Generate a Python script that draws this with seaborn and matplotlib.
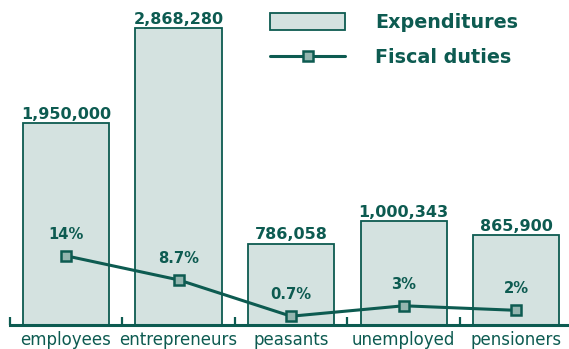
import matplotlib
matplotlib.use("Agg")
import matplotlib.pyplot as plt
import seaborn as sns
import pandas as pd
import numpy as np
from matplotlib.patches import Patch
from matplotlib.lines import Line2D

# Data
categories = ["employees", "entrepreneurs", "peasants", "unemployed", "pensioners"]
expenditures = [1950000, 2868280, 786058, 1000343, 865900]
fiscal_duties = [14, 8.7, 0.7, 3, 2]
duty_labels = ["14%", "8.7%", "0.7%", "3%", "2%"]

DARK = "#0d5b51"
FILL = "#d4e2e0"
MARKER_FILL = "#93b5af"

sns.set_theme(style="white")
plt.rcParams["font.family"] = ["DejaVu Sans"]

W, H = 569, 349
fig = plt.figure(figsize=(W / 100, H / 100), dpi=100)
ax = fig.add_axes([9.75 / W, 24 / H, 1 - 9.75 / W, 325 / H])

df = pd.DataFrame({"group": categories, "spend": expenditures})
sns.barplot(data=df, x="group", y="spend", order=categories, ax=ax,
            color=FILL, edgecolor=DARK, linewidth=1.3, width=0.765,
            saturation=1)

ax.set_xlim(-0.5, 4.47)
ax.set_ylim(0, 3138600)

for c in ax.containers:
    ax.bar_label(c, labels=[f"{v:,}" for v in expenditures], padding=1,
                 fontsize=11.5, fontweight="bold", color=DARK)

# Fiscal duty line on a secondary scale
ax2 = ax.twinx()
ax2.set_position(ax.get_position())
pos = np.arange(len(categories))
sns.lineplot(x=pos, y=fiscal_duties, ax=ax2, color=DARK, linewidth=2.2,
             marker="s", markersize=6.8, markerfacecolor=MARKER_FILL,
             markeredgecolor=DARK, markeredgewidth=1.8)
ax2.set_ylim(-1.23, 70.3)
ax2.set_xlim(-0.5, 4.47)
for x, v, lab in zip(pos, fiscal_duties, duty_labels):
    ax2.annotate(lab, (x, v), xytext=(0, 15.5), textcoords="offset points",
                 ha="center", va="center", fontsize=10.6, fontweight="bold",
                 color=DARK)

# Axes styling
for a in (ax, ax2):
    for s in ("top", "right", "left"):
        a.spines[s].set_visible(False)
    a.set_yticks([])
    a.set_ylabel("")
    a.set_xlabel("")
ax2.spines["bottom"].set_visible(False)
ax.spines["bottom"].set_color(DARK)
ax.spines["bottom"].set_linewidth(2.2)

ax.set_xticks(pos)
ax.set_xticklabels(categories, fontsize=12, color=DARK)
ax.tick_params(axis="x", which="major", length=0, pad=4)
ax.set_xticks(np.arange(len(categories)) - 0.5, minor=True)
ax.tick_params(axis="x", which="minor", direction="in", length=5.5,
               width=1.6, color=DARK, bottom=True)

# Legend
handles = [
    Patch(facecolor=FILL, edgecolor=DARK, linewidth=1.3),
    Line2D([0], [0], color=DARK, linewidth=2.2, marker="s", markersize=6.8,
           markerfacecolor=MARKER_FILL, markeredgecolor=DARK,
           markeredgewidth=1.8),
]
leg = ax2.legend(handles, ["Expenditures", "Fiscal duties"],
                 loc="upper left", bbox_to_anchor=(262 / W, 1 - 5.5 / H),
                 bbox_transform=fig.transFigure, frameon=False,
                 prop={"size": 13.8, "weight": "bold"},
                 handlelength=3.95, handleheight=1.0, handletextpad=1.55,
                 labelspacing=0.82, borderaxespad=0, borderpad=0.4)
for t in leg.get_texts():
    t.set_color(DARK)

fig.savefig("out.png", dpi=100)
